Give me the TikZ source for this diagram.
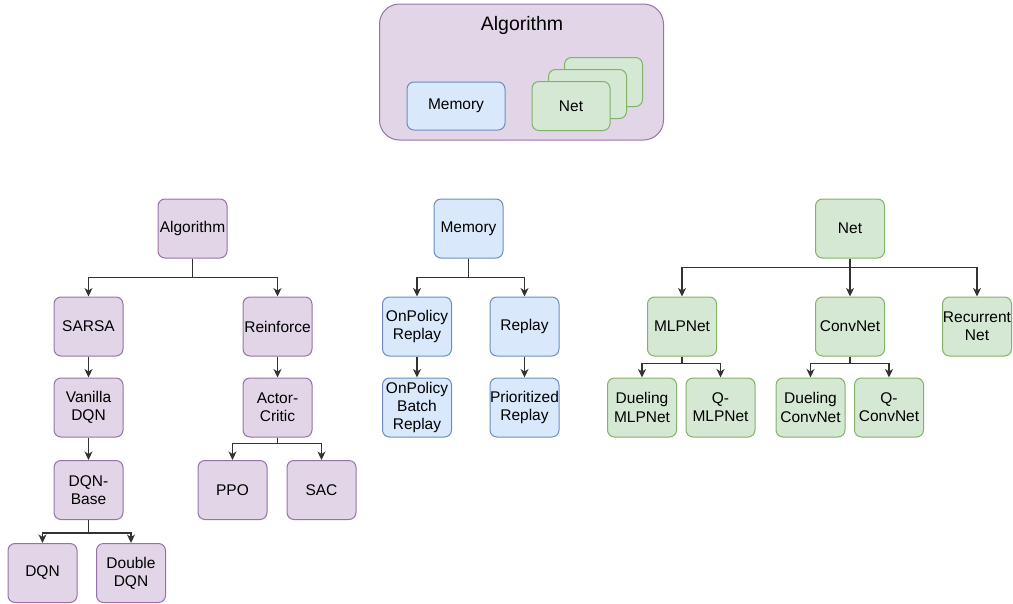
\documentclass[tikz,border=0pt]{standalone}
\usepackage{fontspec}
\setmainfont{Liberation Sans}
\usetikzlibrary{arrows.meta}
\definecolor{pfill}{HTML}{E1D5E7}
\definecolor{pdraw}{HTML}{9673A6}
\definecolor{bfill}{HTML}{DAE8FC}
\definecolor{bdraw}{HTML}{6C8EBF}
\definecolor{gfill}{HTML}{D5E8D4}
\definecolor{gdraw}{HTML}{82B366}
\definecolor{edge}{HTML}{333333}
\tikzset{
  box/.style={rectangle, rounded corners=7pt, minimum width=69pt, minimum height=59pt,
    inner sep=0pt, align=center, line width=1pt, font=\fontsize{15.5}{18.3}\selectfont},
  pbox/.style={box, fill=pfill, draw=pdraw},
  bbox/.style={box, fill=bfill, draw=bdraw},
  gbox/.style={box, fill=gfill, draw=gdraw},
  arr/.style={draw=edge, line width=1.2pt, -{Stealth[length=8.5pt,width=8pt,inset=2.5pt]}},
}
\begin{document}
\begin{tikzpicture}[x=1pt,y=-1pt]
\useasboundingbox (0,0) rectangle (1013,603);
% top container
\node[rectangle, rounded corners=20pt, fill=pfill, draw=pdraw, line width=1pt,
  minimum width=284pt, minimum height=136pt, inner sep=0pt] (cont) at (521.5,72) {};
\node[font=\fontsize{19.5}{22}\selectfont, inner sep=0pt] (conttitle) at (522,25) {Algorithm};
\node[bbox, minimum width=98pt, minimum height=48pt] (cmem) at (456,106) {Memory};
\node[gbox, minimum width=78pt, minimum height=49pt] (cnet3) at (603.5,82) {};
\node[gbox, minimum width=78pt, minimum height=49pt] (cnet2) at (587.5,94) {};
\node[gbox, minimum width=78pt, minimum height=49pt] (cnet1) at (571,106) {Net};

% algorithm tree
\node[pbox] (alg) at (192.5,228.5) {Algorithm};
\node[pbox] (sarsa) at (88.5,326.5) {SARSA};
\node[pbox] (reinf) at (277.5,326.5) {Reinforce};
\node[pbox] (vdqn) at (88.5,407.5) {Vanilla\\DQN};
\node[pbox] (ac) at (277.5,407.5) {Actor-\\Critic};
\node[pbox] (dqnb) at (88.5,490) {DQN-\\Base};
\node[pbox] (ppo) at (232.5,490) {PPO};
\node[pbox] (sac) at (321.5,490) {SAC};
\node[pbox] (dqn) at (42.5,573) {DQN};
\node[pbox] (ddqn) at (131,573) {Double\\DQN};

\draw[arr] (alg.south) -- ++(0,19) -| (sarsa.north);
\draw[arr] (alg.south) -- ++(0,19) -| (reinf.north);
\draw[arr] (sarsa) -- (vdqn);
\draw[arr] (vdqn) -- (dqnb);
\draw[arr] (reinf) -- (ac);
\draw[arr] (ac.south) -- ++(0,6) -| (ppo.north);
\draw[arr] (ac.south) -- ++(0,6) -| (sac.north);
\draw[arr] (dqnb.south) -- ++(0,13) -| (dqn.north);
\draw[arr] (dqnb.south) -- ++(0,13) -| (ddqn.north);

% memory tree
\node[bbox] (mem) at (468.5,228.5) {Memory};
\node[bbox] (opr) at (417,326.5) {OnPolicy\\Replay};
\node[bbox] (rep) at (524.5,326.5) {Replay};
\node[bbox] (opbr) at (417,407.5) {OnPolicy\\Batch\\Replay};
\node[bbox] (prep) at (524.5,407.5) {Prioritized\\Replay};
\draw[arr] (mem.south) -- ++(0,19) -| (opr.north);
\draw[arr] (mem.south) -- ++(0,19) -| (rep.north);
\draw[arr] (opr) -- (opbr);
\draw[arr] (rep) -- (prep);

% net tree
\node[gbox] (net) at (850,228.5) {Net};
\node[gbox] (mlp) at (682,326.5) {MLPNet};
\node[gbox] (conv) at (850,326.5) {ConvNet};
\node[gbox] (rnn) at (977,326.5) {Recurrent\\Net};
\node[gbox] (dmlp) at (642,407.5) {Dueling\\MLPNet};
\node[gbox] (qmlp) at (720.5,407.5) {Q-\\MLPNet};
\node[gbox] (dconv) at (810.5,407.5) {Dueling\\ConvNet};
\node[gbox] (qconv) at (889,407.5) {Q-\\ConvNet};
\draw[arr] (net.south) -- ++(0,9) -| (mlp.north);
\draw[arr] (net) -- (conv);
\draw[arr] (net.south) -- ++(0,9) -| (rnn.north);
\draw[arr] (mlp.south) -- ++(0,7) -| (dmlp.north);
\draw[arr] (mlp.south) -- ++(0,7) -| (qmlp.north);
\draw[arr] (conv.south) -- ++(0,7) -| (dconv.north);
\draw[arr] (conv.south) -- ++(0,7) -| (qconv.north);
\end{tikzpicture}
\end{document}
